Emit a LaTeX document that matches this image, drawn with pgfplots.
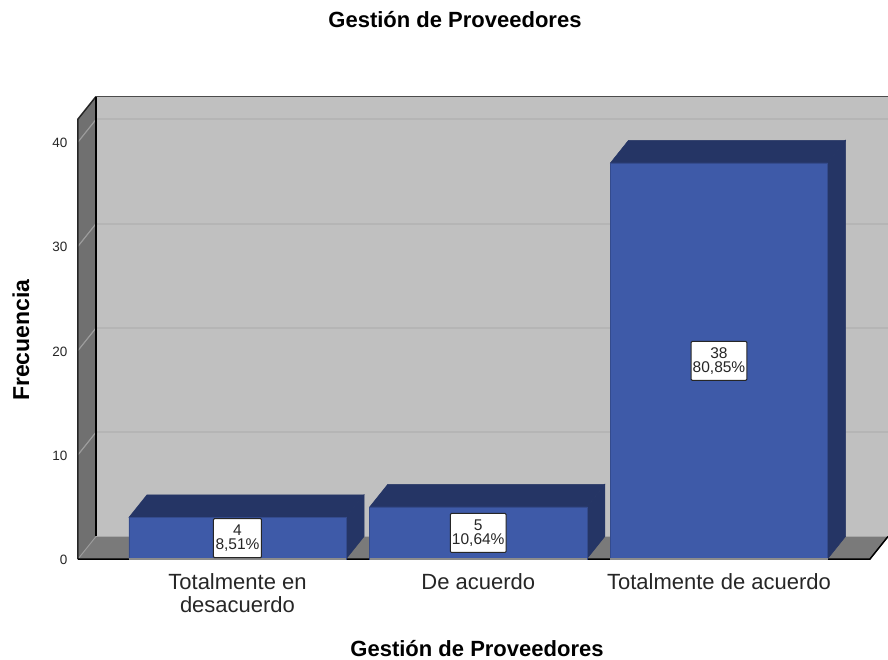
\documentclass[border=0pt]{standalone}
\usepackage{fontspec}
\setmainfont{Liberation Sans}
\usepackage{pgfplots}
\pgfplotsset{compat=1.18}
\usepackage{pgfplotstable}
\definecolor{wallback}{HTML}{C0C0C0}
\definecolor{wallside}{HTML}{707070}
\definecolor{wallfloor}{HTML}{7A7A7A}
\definecolor{barfront}{HTML}{3E5AA8}
\definecolor{bardark}{HTML}{253565}
\definecolor{gridback}{HTML}{B5B5B5}
\definecolor{gridside}{HTML}{9C9C9C}
\definecolor{txt}{HTML}{262626}
\pgfplotstableread[col sep=comma]{
x,y,label
0,2,{4\\8,51\%}
1,2.5,{5\\10,64\%}
2,19,{38\\80,85\%}
}\labeltable
\begin{document}
\begin{tikzpicture}[x=1pt,y=1pt]
\path[use as bounding box] (-78,-100) rectangle (810,559);
\begin{axis}[
  at={(0,0)},anchor=south west,
  scale only axis,width=810pt,height=463pt,
  xmin=-0.6625,xmax=2.702,ymin=0,ymax=44.41,
  clip=false,axis line style={draw=none},
  major tick length=0pt,
  xtick={0,1,2},
  xticklabels={{Totalmente en\\desacuerdo},{De acuerdo},{Totalmente de acuerdo}},
  xticklabel style={align=center,font=\fontsize{22}{23}\selectfont,text=txt,yshift=-11pt},
  ytick={0,10,20,30,40},
  yticklabel style={font=\fontsize{13.5}{16}\selectfont,text=txt,xshift=-7pt,yshift=-1pt},
  /pgf/number format/assume math mode=true,
  title={\textbf{Gestión de Proveedores}},
  title style={at={(rel axis cs:0.4654,1.153)},anchor=center,inner sep=0pt,font=\fontsize{22}{24}\selectfont,text=black},
  xlabel={\textbf{Gestión de Proveedores}},
  xlabel style={at={(rel axis cs:0.4926,-0.1944)},anchor=center,inner sep=0pt,font=\fontsize{22}{24}\selectfont,text=black},
  ylabel={\textbf{Frecuencia}},
  ylabel style={at={(rel axis cs:-0.0704,0.4730)},anchor=center,inner sep=0pt,font=\fontsize{23}{25}\selectfont,text=black},
]
% back wall
\addplot[fill=wallback,draw=none] coordinates {(-0.5877,2.16)(2.702,2.16)(2.702,44.36)(-0.5877,44.36)} -- cycle;
% left wall
\addplot[fill=wallside,draw=none] coordinates {(-0.6625,0)(-0.5877,2.16)(-0.5877,44.36)(-0.6625,42.2)} -- cycle;
% floor
\addplot[fill=wallfloor,draw=none] coordinates {(-0.6625,0)(-0.5877,2.16)(2.702,2.16)(2.6272,0)} -- cycle;
% grid back
\addplot[draw=gridback,line width=2pt] coordinates {(-0.5877,12.16)(2.702,12.16)};
\addplot[draw=gridback,line width=2pt] coordinates {(-0.5877,22.16)(2.702,22.16)};
\addplot[draw=gridback,line width=2pt] coordinates {(-0.5877,32.16)(2.702,32.16)};
\addplot[draw=gridback,line width=2pt] coordinates {(-0.5877,42.16)(2.702,42.16)};
% grid left wall
\addplot[draw=gridside,line width=1.2pt] coordinates {(-0.6625,10)(-0.5877,12.16)};
\addplot[draw=gridside,line width=1.2pt] coordinates {(-0.6625,20)(-0.5877,22.16)};
\addplot[draw=gridside,line width=1.2pt] coordinates {(-0.6625,30)(-0.5877,32.16)};
\addplot[draw=gridside,line width=1.2pt] coordinates {(-0.6625,40)(-0.5877,42.16)};
\addplot[draw=gridside,line width=1pt] coordinates {(-0.6625,0)(-0.5877,2.16)};
% frame
\addplot[draw=black!85,line width=1.5pt] coordinates {(-0.6625,0)(-0.6625,42.2)(-0.5877,44.36)};
\addplot[draw=black!70,line width=1.8pt] coordinates {(-0.5877,44.36)(2.702,44.36)};
\addplot[draw=black,line width=1.2pt] coordinates {(-0.5877,44.36)(-0.5877,2.16)};
\addplot[draw=black,line width=1.5pt] coordinates {(-0.6625,0)(2.6272,0)(2.702,2.16)};
% bar tops
\addplot[fill=bardark,draw=bardark,line width=0.5pt] coordinates {(-0.4507,4)(-0.3759,6.16)(0.5255,6.16)(0.4507,4)} -- cycle;
\addplot[fill=bardark,draw=bardark,line width=0.5pt] coordinates {(0.5493,5)(0.6241,7.16)(1.5255,7.16)(1.4507,5)} -- cycle;
\addplot[fill=bardark,draw=bardark,line width=0.5pt] coordinates {(1.5493,38)(1.6241,40.16)(2.5255,40.16)(2.4507,38)} -- cycle;
% bar sides
\addplot[fill=bardark,draw=bardark,line width=0.5pt] coordinates {(0.4507,0)(0.5255,2.16)(0.5255,6.16)(0.4507,4)} -- cycle;
\addplot[fill=bardark,draw=bardark,line width=0.5pt] coordinates {(1.4507,0)(1.5255,2.16)(1.5255,7.16)(1.4507,5)} -- cycle;
\addplot[fill=bardark,draw=bardark,line width=0.5pt] coordinates {(2.4507,0)(2.5255,2.16)(2.5255,40.16)(2.4507,38)} -- cycle;
% bar fronts
\addplot[ybar,bar width=217pt,fill=barfront,draw=bardark!40!barfront,line width=0.5pt] coordinates {(0,4)(1,5)(2,38)};
% baseline under bars
\addplot[draw=black!45,line width=1.4pt] coordinates {(-0.4507,0)(0.4507,0)};
\addplot[draw=black!45,line width=1.4pt] coordinates {(0.5493,0)(1.4507,0)};
\addplot[draw=black!45,line width=1.4pt] coordinates {(1.5493,0)(2.4507,0)};
% labels
\addplot[only marks,mark=none,point meta=explicit symbolic,
  nodes near coords,
  every node near coord/.append style={anchor=center,align=center,fill=white,draw=black!85,
    line width=1pt,rounded corners=1pt,inner xsep=1.5pt,inner ysep=1pt,text=txt,
    minimum height=39pt,minimum width=48pt,
    font=\fontsize{15.5}{14.5}\selectfont}]
  table[x=x,y=y,meta=label,col sep=comma] {\labeltable};
\end{axis}
\end{tikzpicture}
\end{document}
